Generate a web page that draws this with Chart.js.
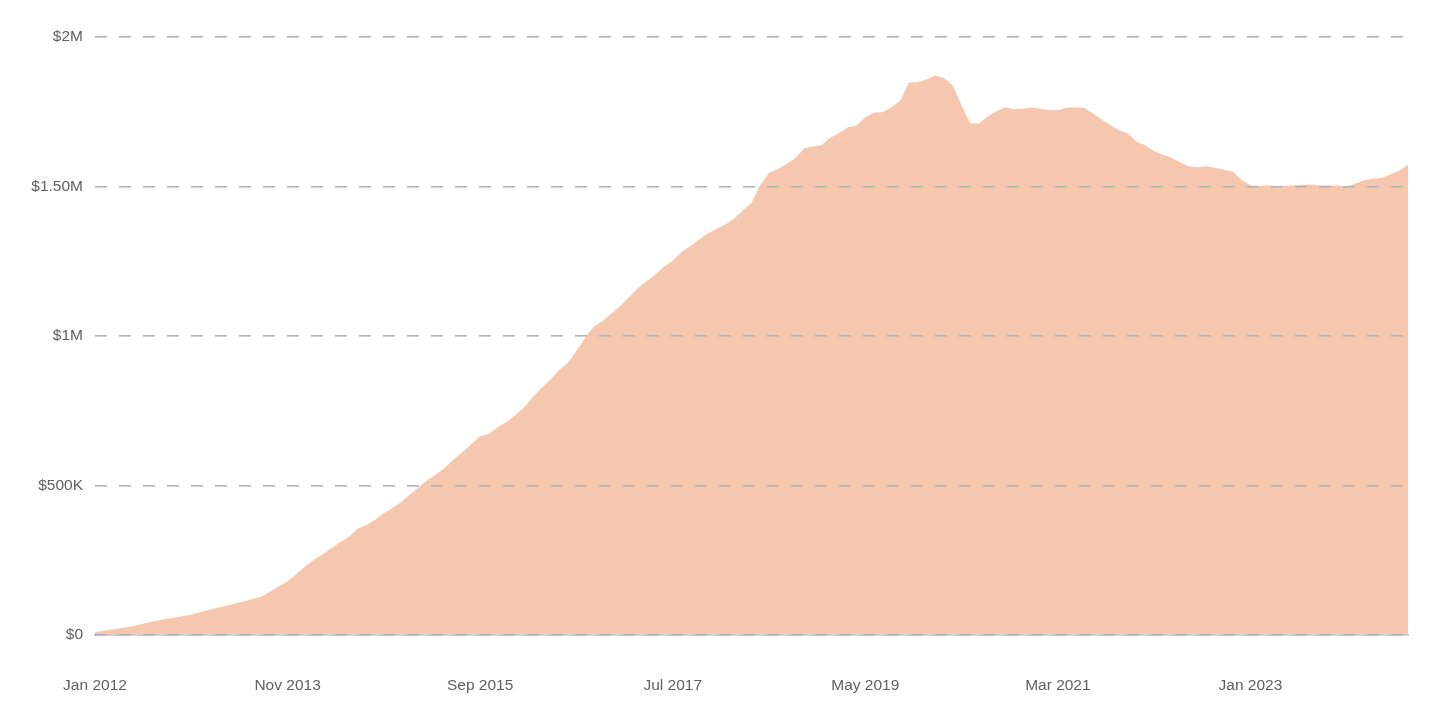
<!DOCTYPE html>
<html>
<head>
<meta charset="utf-8">
<script src="https://cdn.jsdelivr.net/npm/chart.js@4"></script>
<style>
  html, body { margin: 0; padding: 0; background: #ffffff; }
  #wrap { width: 1440px; height: 723px; }
</style>
</head>
<body>
<div id="wrap"><canvas id="c" width="1440" height="723"></canvas></div>
<script>
// Categories: monthly, Jan 2012 .. Jul 2024
const monthNames = ['Jan','Feb','Mar','Apr','May','Jun','Jul','Aug','Sep','Oct','Nov','Dec'];
const startYear = 2012;
const monthCount = 151;
const categories = [];
for (let i = 0; i < monthCount; i++) {
  categories.push(monthNames[i % 12] + ' ' + (startYear + Math.floor(i / 12)));
}

// Series values, in thousands of dollars
const values = [
  8, 14, 18, 23, 28, 34, 41, 48, 53, 58,
  63, 68, 76, 84, 91, 98, 105, 112, 120, 128,
  145, 162, 180, 203, 229, 251, 270, 290, 310, 328,
  355, 368, 385, 407, 425, 445, 470, 495, 518, 538,
  560, 588, 612, 638, 665, 672, 695, 712, 735, 760,
  795, 825, 854, 885, 910, 950, 995, 1032, 1050, 1075,
  1100, 1130, 1160, 1182, 1205, 1232, 1252, 1280, 1300, 1322,
  1342, 1359, 1373, 1392, 1420, 1445, 1505, 1545, 1558, 1575,
  1595, 1627, 1634, 1638, 1663, 1678, 1698, 1703, 1732, 1747,
  1749, 1765, 1787, 1849, 1849, 1858, 1871, 1862, 1838, 1770,
  1711, 1711, 1735, 1752, 1765, 1758, 1760, 1764, 1760, 1756,
  1755, 1763, 1765, 1763, 1744, 1724, 1705, 1687, 1677, 1650,
  1638, 1618, 1606, 1596, 1580, 1567, 1564, 1568, 1562, 1556,
  1549, 1522, 1504, 1501, 1504, 1501, 1502, 1504, 1506, 1506,
  1503, 1503, 1503, 1499, 1510, 1521, 1526, 1529, 1540, 1553,
  1573
];

// Tick labels
const yTickLabels = ['$0', '$500K', '$1M', '$1.50M', '$2M'];
const xLabelEvery = 22;

const font = { family: "'Liberation Sans', Arial, Helvetica, sans-serif", size: 15.5 };

new Chart(document.getElementById('c'), {
  type: 'line',
  data: {
    labels: categories,
    datasets: [{
      data: values,
      fill: 'origin',
      backgroundColor: '#F5C7AF',
      borderColor: 'rgba(0,0,0,0)',
      borderWidth: 0,
      pointRadius: 0,
      tension: 0
    }]
  },
  options: {
    responsive: false,
    animation: false,
    layout: { padding: { top: 37, right: 32, bottom: 0, left: 0 } },
    plugins: { legend: { display: false }, tooltip: { enabled: false } },
    scales: {
      x: {
        grid: { display: false, drawTicks: false },
        border: { display: true, color: '#cfcfcf', width: 2, z: 1 },
        ticks: {
          autoSkip: false,
          maxRotation: 0,
          minRotation: 0,
          padding: 41,
          color: '#606060',
          font: font,
          callback: (v, i) => (i % xLabelEvery === 0 ? categories[i] : '')
        },
        afterFit: (s) => { s.height = 88; s.paddingRight = 0; s.paddingLeft = 0; }
      },
      y: {
        min: 0,
        max: 2000,
        ticks: {
          stepSize: 500,
          padding: 12,
          color: '#606060',
          font: font,
          callback: (v, i) => yTickLabels[i]
        },
        grid: { color: '#b4b4b4', lineWidth: 1.6, drawTicks: false, z: 1 },
        border: { display: false, dash: [12, 12] },
        afterFit: (s) => { s.width = 95; }
      }
    }
  }
});
</script>
</body>
</html>
